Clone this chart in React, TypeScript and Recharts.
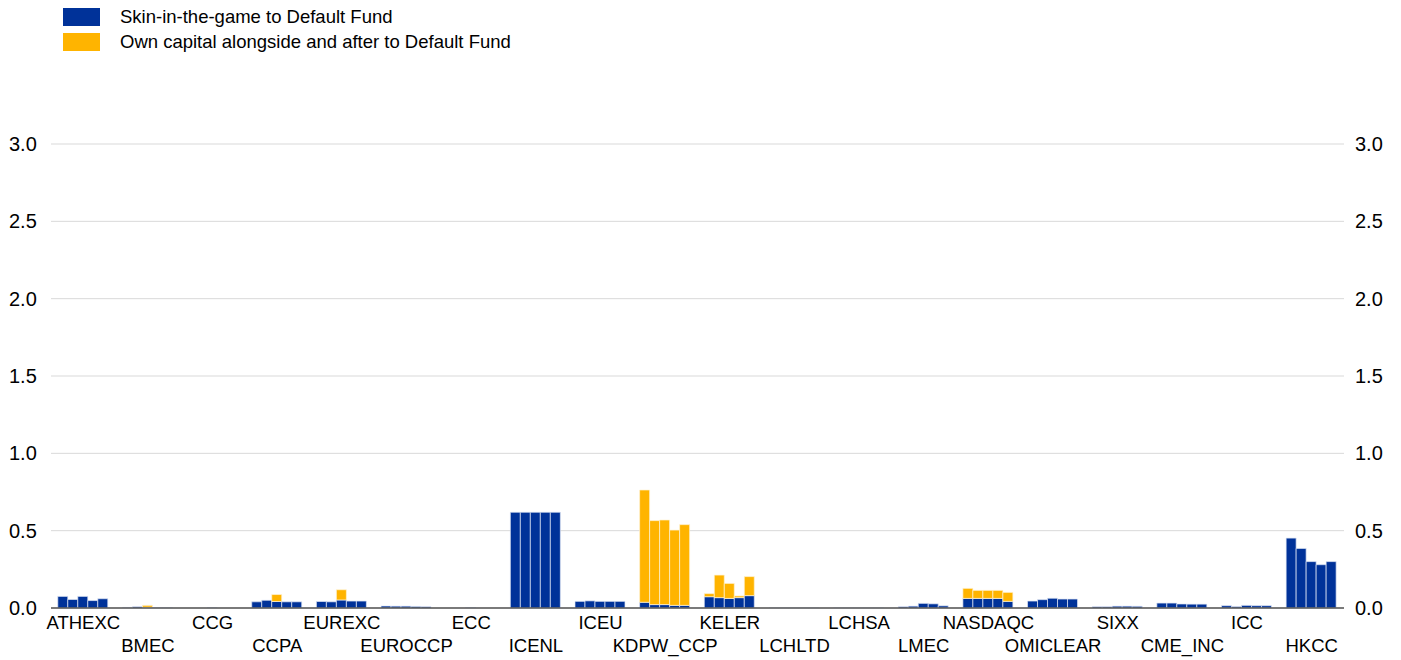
import { BarChart, Bar, XAxis, YAxis, CartesianGrid } from 'recharts'

const ccps = [
    'ATHEXC', 'BMEC', 'CCG', 'CCPA', 'EUREXC', 'EUROCCP', 'ECC', 'ICENL', 'ICEU', 'KDPW_CCP',
    'KELER', 'LCHLTD', 'LCHSA', 'LMEC', 'NASDAQC', 'OMICLEAR', 'SIXX', 'CME_INC', 'ICC', 'HKCC'
];

// five observations per CCP, left to right
const skinInGame = [
    [0.075, 0.055, 0.075, 0.048, 0.06],
    [0.004, 0.008, 0.005, 0.002, 0.002],
    [0, 0, 0.003, 0, 0],
    [0.04, 0.05, 0.042, 0.04, 0.04],
    [0.042, 0.04, 0.052, 0.045, 0.045],
    [0.013, 0.012, 0.012, 0.01, 0.008],
    [0, 0, 0.003, 0, 0],
    [0.619, 0.619, 0.619, 0.619, 0.619],
    [0.043, 0.046, 0.043, 0.043, 0.043],
    [0.037, 0.022, 0.022, 0.017, 0.017],
    [0.073, 0.067, 0.062, 0.067, 0.08],
    [0.001, 0.001, 0.001, 0.001, 0.001],
    [0.001, 0.001, 0.001, 0.001, 0.001],
    [0.008, 0.012, 0.03, 0.027, 0.014],
    [0.062, 0.062, 0.062, 0.062, 0.043],
    [0.045, 0.054, 0.063, 0.058, 0.058],
    [0.008, 0.008, 0.012, 0.012, 0.011],
    [0.032, 0.032, 0.026, 0.025, 0.025],
    [0.015, 0.009, 0.017, 0.015, 0.015],
    [0.452, 0.385, 0.3, 0.28, 0.3]
];

const ownCapital = [
    [0, 0, 0, 0, 0],
    [0, 0, 0.012, 0, 0],
    [0, 0, 0, 0, 0],
    [0, 0, 0.045, 0, 0],
    [0, 0, 0.066, 0, 0],
    [0, 0, 0, 0, 0],
    [0, 0, 0, 0, 0],
    [0, 0, 0, 0, 0],
    [0, 0, 0, 0, 0],
    [0.726, 0.543, 0.547, 0.487, 0.522],
    [0.02, 0.146, 0.097, 0.011, 0.123],
    [0, 0, 0, 0, 0],
    [0, 0, 0, 0, 0],
    [0, 0, 0, 0, 0],
    [0.065, 0.052, 0.052, 0.052, 0.058],
    [0, 0, 0, 0, 0],
    [0, 0, 0, 0, 0],
    [0, 0, 0, 0, 0],
    [0, 0, 0, 0, 0],
    [0, 0, 0, 0, 0]
];

const yTicks = [0, 0.5, 1, 1.5, 2, 2.5, 3];
const periods = [0, 1, 2, 3, 4];

const BLUE = '#003299';
const YELLOW = '#ffb400';
const FONT = 'Liberation Sans, Arial, sans-serif';

const data = ccps.map((name, i) => {
    const row: any = { name };
    periods.forEach(p => {
        row[`sig${p}`] = skinInGame[i][p];
        row[`own${p}`] = ownCapital[i][p];
    });
    return row;
});

function XTick(props: any) {
    const { x, y, payload, index } = props;
    const idx = payload?.index ?? index ?? 0;
    const dy = idx % 2 === 0 ? 14 : 37;
    return (
        <text x={x} y={y - 8 + dy} textAnchor="middle" dominantBaseline="central"
            fontFamily={FONT} fontSize={18.5} fill="#000">
            {payload.value}
        </text>
    );
}

// same labels on both sides of the plot
function YTick(props: any) {
    const { y, payload } = props;
    const label = Number(payload.value).toFixed(1);
    return (
        <g>
            <text x={9} y={y} textAnchor="start" dominantBaseline="central"
                fontFamily={FONT} fontSize={20} fill="#000">
                {label}
            </text>
            <text x={1355} y={y} textAnchor="start" dominantBaseline="central"
                fontFamily={FONT} fontSize={20} fill="#000">
                {label}
            </text>
        </g>
    );
}

const legendItems = [
    { label: 'Skin-in-the-game to Default Fund', color: BLUE },
    { label: 'Own capital alongside and after to Default Fund', color: YELLOW }
];

export default function App() {
    return (
        <div style={{ position: 'relative', margin: '-8px 0 0 -8px', width: 1401, height: 660 }}>
            {/* legend */}
            <div style={{ position: 'absolute', left: 63, top: 4, fontFamily: FONT, fontSize: 18.5, color: '#000' }}>
                {legendItems.map((item) => (
                    <div key={item.label} style={{ display: 'flex', alignItems: 'center', height: 25 }}>
                        <div style={{ width: 37, height: 18, backgroundColor: item.color }}></div>
                        <span style={{ marginLeft: 20 }}>{item.label}</span>
                    </div>
                ))}
            </div>
            <BarChart
                width={1401}
                height={660}
                data={data}
                margin={{ top: 144, right: 57, bottom: 0, left: 0 }}
                barCategoryGap="10.5%"
                barGap={0}
            >
                <CartesianGrid vertical={false} stroke="#d9d9d9" />
                <XAxis dataKey="name" height={52} interval={0} tickLine={false}
                    axisLine={{ stroke: '#555', strokeWidth: 1.5 }} tick={<XTick />} />
                <YAxis width={51} domain={[0, 3]} ticks={yTicks}
                    axisLine={false} tickLine={false} tick={<YTick />} />
                {periods.map(p => [
                    <Bar key={`sig${p}`} dataKey={`sig${p}`} stackId={`s${p}`}
                        fill={BLUE} stroke="#dfe6f5" strokeWidth={0.7} isAnimationActive={false} />,
                    <Bar key={`own${p}`} dataKey={`own${p}`} stackId={`s${p}`}
                        fill={YELLOW} stroke="#fff3d6" strokeWidth={0.7} isAnimationActive={false} />
                ])}
            </BarChart>
        </div>
    );
}
